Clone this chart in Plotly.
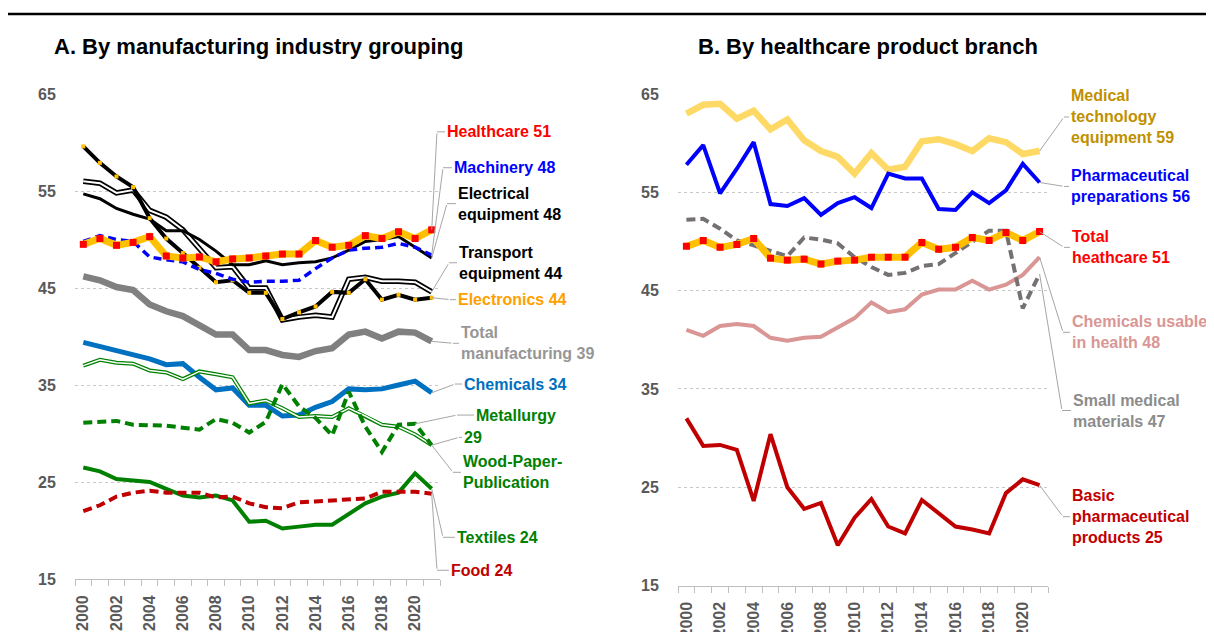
import plotly.graph_objects as go

years = list(range(2000, 2022))
tick_years = list(range(2000, 2021, 2))
y_ticks = [15, 25, 35, 45, 55, 65]

# --- panel A: manufacturing industry groupings ---
healthcare = [49.5, 50.1, 49.4, 49.7, 50.3, 48.3, 48.1, 48.2, 47.7, 48.0, 48.1, 48.3, 48.5, 48.5, 49.9, 49.2, 49.4, 50.4, 50.1, 50.8, 50.1, 51.0]
machinery = [49.8, 50.4, 50.0, 49.8, 48.2, 47.9, 47.7, 46.9, 46.5, 45.9, 45.6, 45.7, 45.7, 45.8, 47.0, 48.1, 48.9, 49.1, 49.2, 49.6, 49.2, 48.4]
electrical = [54.7, 54.2, 53.2, 52.6, 52.1, 50.9, 50.9, 50.0, 48.8, 47.4, 47.4, 47.8, 47.4, 47.6, 47.7, 48.1, 48.9, 49.8, 50.0, 50.3, 49.2, 48.1]
transport = [56.0, 55.8, 54.8, 55.1, 53.0, 52.3, 51.0, 49.1, 47.1, 47.2, 45.0, 45.0, 41.7, 42.0, 42.2, 42.0, 45.9, 46.1, 45.7, 45.7, 45.6, 44.6]
electronics = [59.6, 57.9, 56.5, 55.4, 52.2, 50.1, 48.6, 47.1, 45.6, 45.8, 44.5, 44.5, 41.8, 42.5, 43.1, 44.6, 44.5, 45.9, 43.8, 44.3, 43.8, 44.0]
total_manuf = [46.2, 45.8, 45.1, 44.8, 43.3, 42.6, 42.1, 41.2, 40.2, 40.2, 38.6, 38.6, 38.1, 37.9, 38.5, 38.8, 40.2, 40.5, 39.8, 40.5, 40.4, 39.5]
chemicals = [39.4, 39.0, 38.6, 38.2, 37.7, 37.1, 37.2, 35.8, 34.5, 34.7, 32.9, 32.9, 31.8, 31.9, 32.7, 33.3, 34.6, 34.5, 34.6, 35.0, 35.4, 34.2]
wood_paper = [37.0, 37.6, 37.3, 37.2, 36.5, 36.3, 35.6, 36.4, 36.1, 35.8, 33.1, 33.4, 32.6, 31.7, 31.8, 31.7, 32.6, 31.8, 30.9, 30.7, 29.9, 28.8]
metallurgy = [31.1, 31.2, 31.3, 30.9, 30.9, 30.8, 30.6, 30.4, 31.5, 31.1, 30.1, 31.2, 35.1, 32.8, 31.6, 29.8, 34.3, 30.7, 28.1, 30.9, 31.0, 28.8]
textiles = [26.5, 26.1, 25.3, 25.2, 25.0, 24.3, 23.6, 23.4, 23.6, 23.1, 20.9, 21.0, 20.2, 20.4, 20.6, 20.6, 21.7, 22.8, 23.5, 23.9, 25.9, 24.3]
food = [22.0, 22.6, 23.5, 23.9, 24.1, 23.9, 23.9, 23.9, 23.4, 23.5, 22.8, 22.4, 22.3, 22.9, 23.0, 23.1, 23.2, 23.3, 24.0, 24.0, 24.0, 23.8]

# --- panel B: healthcare product branches ---
med_tech = [63.0, 63.9, 64.0, 62.5, 63.3, 61.4, 62.4, 60.3, 59.2, 58.6, 56.9, 59.0, 57.3, 57.6, 60.2, 60.4, 59.9, 59.2, 60.5, 60.1, 58.9, 59.2]
pharma_prep = [57.8, 59.8, 54.9, 57.4, 60.1, 53.8, 53.6, 54.4, 52.7, 53.9, 54.5, 53.4, 56.9, 56.4, 56.4, 53.3, 53.2, 55.0, 53.9, 55.2, 57.9, 56.0]
total_health = [49.5, 50.1, 49.4, 49.7, 50.3, 48.3, 48.1, 48.2, 47.7, 48.0, 48.1, 48.4, 48.4, 48.4, 49.9, 49.2, 49.4, 50.4, 50.1, 50.9, 50.1, 51.0]
small_med = [52.2, 52.3, 51.3, 50.1, 49.6, 49.1, 48.5, 50.4, 50.2, 49.8, 48.4, 47.4, 46.6, 46.8, 47.5, 47.7, 48.8, 50.0, 51.1, 51.1, 43.2, 46.7]
chem_health = [41.0, 40.4, 41.4, 41.6, 41.4, 40.2, 39.9, 40.2, 40.3, 41.2, 42.2, 43.8, 42.8, 43.1, 44.6, 45.1, 45.1, 46.0, 45.1, 45.6, 46.6, 48.4]
basic_pharma = [32.0, 29.2, 29.3, 28.8, 23.6, 30.4, 25.0, 22.8, 23.4, 19.1, 21.9, 23.8, 21.0, 20.3, 23.7, 22.4, 21.0, 20.7, 20.3, 24.4, 25.8, 25.2]

FONT = "Liberation Sans, Arial, sans-serif"
# the page body has an 8px margin, so the figure is drawn 8px in from the window corner
OFF = 8
W, H = 1214 - OFF, 632 - OFF

def px(x):
    return (x - OFF) / W

def py(y):
    return 1 - (y - OFF) / H

# plot areas in window pixels (left, right)
panels = {"x": (75, 440), "x2": (678, 1048)}

fig = go.Figure()

def add_line(y, color, width, ax="x", dash="solid", marker=None):
    t = go.Scatter(x=years, y=y, mode="lines" if marker is None else "lines+markers",
                   line=dict(color=color, width=width, dash=dash),
                   xaxis=ax, yaxis=ax.replace("x", "y"), hoverinfo="skip")
    if marker is not None:
        t.marker = marker
    fig.add_trace(t)

# panel A
add_line(total_manuf, "#808080", 6.5)
add_line(chemicals, "#0070C0", 5)
add_line(textiles, "#008000", 4)
add_line(food, "#C00000", 4, dash="9px,5px")
add_line(wood_paper, "#008000", 4)
add_line(wood_paper, "white", 1.5)
add_line(metallurgy, "#008000", 4, dash="9px,5px")
add_line(transport, "black", 5.5)
add_line(transport, "white", 2)
add_line(electrical, "black", 3)
add_line(electronics, "black", 4, marker=dict(symbol="square", size=4, color="#FFC000"))
add_line(machinery, "#0000FF", 3.5, dash="8px,5px")
add_line(healthcare, "#FFC000", 7, marker=dict(symbol="square", size=7, color="#FF0000"))

# panel B
add_line(basic_pharma, "#C00000", 4, ax="x2")
add_line(chem_health, "#D99694", 4, ax="x2")
add_line(small_med, "#767171", 4, ax="x2", dash="9px,5px")
add_line(med_tech, "#FFD966", 6.5, ax="x2")
add_line(pharma_prep, "#0000FF", 4, ax="x2")
add_line(total_health, "#FFC000", 7, ax="x2", marker=dict(symbol="square", size=7, color="#FF0000"))

# end labels: text, colour, axis, series, index of the point the leader starts at,
# leader elbow (x pixel, y value), gap from elbow to text in px
labels = [
    ("Healthcare 51", "#FF0000", "x", healthcare, 21, 437, 61.1, 6),
    ("Machinery 48", "#0000FF", "x", machinery, 21, 443, 57.4, 7),
    ("Electrical<br>equipment 48", "black", "x", electrical, 21, 447, 53.7, 7),
    ("Transport<br>equipment 44", "black", "x", transport, 21, 449, 47.6, 6),
    ("Electronics 44", "#FFA000", "x", electronics, 21, 450, 43.8, 4),
    ("Total<br>manufacturing 39", "#969696", "x", total_manuf, 21, 453, 39.3, 4),
    ("Chemicals 34", "#0070C0", "x", chemicals, 21, 455, 35.1, 5),
    ("Metallurgy", "#008000", "x", metallurgy, 20, 457, 31.9, 15),
    ("29", "#008000", "x", metallurgy, 21, 459, 29.6, 1),
    ("Wood-Paper-<br>Publication", "#008000", "x", wood_paper, 21, 453, 26.0, 6),
    ("Textiles 24", "#008000", "x", textiles, 21, 443, 19.3, 10),
    ("Food 24", "#C00000", "x", food, 21, 437, 15.9, 10),
    ("Medical<br>technology<br>equipment 59", "#BF9000", "x2", med_tech, 21, 1064, 62.66, 3),
    ("Pharmaceutical<br>preparations 56", "#0000FF", "x2", pharma_prep, 21, 1064, 55.6, 3),
    ("Total<br>heathcare 51", "#FF0000", "x2", total_health, 21, 1064, 49.4, 4),
    ("Chemicals usable<br>in health 48", "#D99694", "x2", chem_health, 21, 1063, 40.76, 5),
    ("Small medical<br>materials 47", "#8C8C8C", "x2", small_med, 21, 1062, 32.8, 7),
    ("Basic<br>pharmaceutical<br>products 25", "#C00000", "x2", basic_pharma, 21, 1063, 22.0, 5),
]

leader = "#A6A6A6"
for text, color, ax, series, i0, ex_px, ey, gap in labels:
    ay = ax.replace("x", "y")
    left, right = panels[ax]
    ex_year = 1999.5 + (ex_px - left) * 22 / (right - left)
    # leader from the series point to the elbow
    fig.add_annotation(x=years[i0], y=series[i0], xref=ax, yref=ay, text="",
                       showarrow=True, arrowhead=0, arrowwidth=1, arrowcolor=leader,
                       axref=ax, ayref=ay, ax=ex_year, ay=ey)
    # label with short horizontal stub
    fig.add_annotation(x=px(ex_px), y=ey, xref="paper", yref=ay, text=text, align="left",
                       xanchor="left", yanchor="middle", showarrow=True, arrowhead=0,
                       arrowwidth=1, arrowcolor=leader, ax=gap + 2, ay=0,
                       font=dict(family=FONT, size=16, color=color, weight="bold"))

# titles
fig.add_annotation(x=px(258), y=py(46), xref="paper", yref="paper", showarrow=False,
                   xanchor="center", yanchor="middle",
                   text="A. By manufacturing industry grouping",
                   font=dict(family=FONT, size=22, color="black", weight="bold"))
fig.add_annotation(x=px(868), y=py(46), xref="paper", yref="paper", showarrow=False,
                   xanchor="center", yanchor="middle",
                   text="B. By healthcare product branch",
                   font=dict(family=FONT, size=22, color="black", weight="bold"))
fig.add_shape(type="line", xref="paper", yref="paper", x0=0, x1=1, y0=py(14), y1=py(14),
              line=dict(color="black", width=2.5))

xaxis_style = dict(range=[1999.5, 2021.5], tickmode="array", tickvals=tick_years,
                   ticktext=[str(y) for y in tick_years], tickangle=-90,
                   ticks="outside", ticklen=9, tickcolor="rgba(0,0,0,0)",
                   showline=True, linecolor="#BFBFBF", linewidth=1, showgrid=False, zeroline=False,
                   automargin=False,
                   minor=dict(tickmode="linear", tick0=1999.5, dtick=1, ticks="outside",
                              ticklen=6, tickcolor="#BFBFBF", showgrid=False),
                   tickfont=dict(family=FONT, size=16, color="#595959", weight="bold"))
yaxis_style = dict(range=[15, 65], tickmode="array", tickvals=y_ticks,
                   ticks="outside", ticklen=15, tickcolor="rgba(0,0,0,0)",
                   showgrid=True, gridcolor="#C8C8C8", griddash="dot", gridwidth=1,
                   zeroline=False, showline=False, automargin=False,
                   tickfont=dict(family=FONT, size=16, color="#595959", weight="bold"))

fig.update_layout(
    width=W, height=H,
    margin=dict(l=0, r=0, t=0, b=0, autoexpand=False),
    paper_bgcolor="white", plot_bgcolor="white",
    showlegend=False,
    font=dict(family=FONT),
    xaxis=dict(domain=[px(75), px(440)], anchor="y", **xaxis_style),
    yaxis=dict(domain=[py(579), py(94)], anchor="x", **yaxis_style),
    xaxis2=dict(domain=[px(678), px(1048)], anchor="y2", **xaxis_style),
    yaxis2=dict(domain=[py(585.5), py(94)], anchor="x2", **yaxis_style),
)

fig.write_html("out.html")
